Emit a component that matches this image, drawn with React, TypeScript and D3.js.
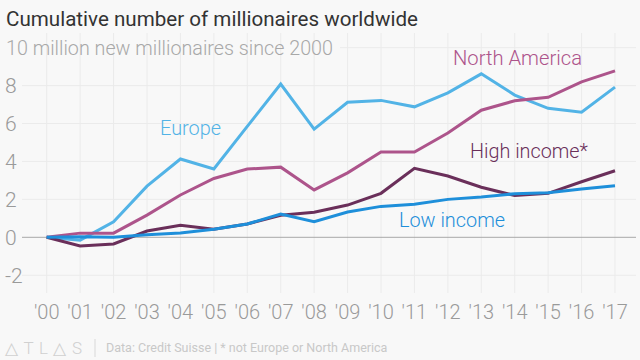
import React from 'react';
import * as d3 from 'd3';

const years = ["'00", "'01", "'02", "'03", "'04", "'05", "'06", "'07", "'08", "'09", "'10", "'11", "'12", "'13", "'14", "'15", "'16", "'17"];

const europe = [0, -0.15, 0.82, 2.7, 4.13, 3.6, 5.85, 8.08, 5.7, 7.12, 7.22, 6.88, 7.62, 8.62, 7.5, 6.8, 6.6, 7.92];
const northAmerica = [0, 0.22, 0.22, 1.17, 2.23, 3.1, 3.6, 3.7, 2.5, 3.4, 4.5, 4.5, 5.5, 6.7, 7.2, 7.38, 8.2, 8.78];
const highIncome = [0, -0.46, -0.35, 0.33, 0.63, 0.42, 0.7, 1.16, 1.32, 1.7, 2.32, 3.64, 3.23, 2.64, 2.2, 2.32, 2.93, 3.51];
const lowIncome = [0, 0.03, 0, 0.14, 0.23, 0.42, 0.7, 1.23, 0.82, 1.33, 1.63, 1.74, 2.0, 2.12, 2.3, 2.35, 2.55, 2.72];

const yTicks = [-2, 0, 2, 4, 6, 8];

const series = [
  { name: 'Europe', values: europe, color: '#52b3e6', labelX: 160, labelY: 127, labelW: 61 },
  { name: 'North America', values: northAmerica, color: '#ad548b', labelX: 453, labelY: 57, labelW: 129 },
  { name: 'High income*', values: highIncome, color: '#6a2f5a', labelX: 470, labelY: 150, labelW: 118 },
  { name: 'Low income', values: lowIncome, color: '#1e8fda', labelX: 399, labelY: 219, labelW: 106 },
];

const W = 640;
const H = 360;
const font = 'Roboto, sans-serif';

const App: React.FC = () => {
  const x = d3.scaleLinear().domain([0, years.length - 1]).range([46.7, 615]);
  const y = d3.scaleLinear().domain([0, 8]).range([237.3, 85.6]);

  const line = d3.line<number>()
    .x((_, i) => x(i))
    .y((d) => y(d));

  return (
    <svg width={W} height={H} style={{ position: 'absolute', left: 0, top: 0, background: '#f8f8f8' }}>
      <rect width={W} height={H} fill="#f8f8f8" />
      {/* vertical grid */}
      {years.map((_, i) => (
        <line key={'v' + i} x1={x(i)} x2={x(i)} y1={33} y2={293} stroke="#ebebeb" strokeWidth={1} />
      ))}
      {/* horizontal grid */}
      {yTicks.map((t) => (
        <line key={'h' + t} x1={22} x2={636} y1={y(t)} y2={y(t)}
          stroke={t === 0 ? '#a8a8a8' : '#ebebeb'} strokeWidth={1} />
      ))}
      <line x1={340} x2={636} y1={y(10)} y2={y(10)} stroke="#ebebeb" strokeWidth={1} />
      {yTicks.map((t) => (
        <text key={'yl' + t} x={5} y={y(t)} dy="0.36em" fontFamily={font} fontWeight={300}
          fontSize={21} fill="#9a9a9a">{t}</text>
      ))}
      {years.map((yr, i) => (
        <text key={'xl' + i} x={x(i)} y={319} textAnchor="middle" fontFamily={font} fontWeight={300}
          fontSize={20} fill="#9a9a9a">{yr}</text>
      ))}
      {/* lines */}
      {series.map((s) => (
        <path key={s.name} d={line(s.values) || ''} fill="none" stroke={s.color} strokeWidth={3}
          strokeLinejoin="miter" />
      ))}
      {series.map((s) => (
        <text key={'lab' + s.name} x={s.labelX} y={s.labelY} dy="0.36em" fontFamily={font} fontWeight={300}
          fontSize={21} fill={s.color} textLength={s.labelW} lengthAdjust="spacingAndGlyphs">{s.name}</text>
      ))}
      {/* title */}
      <text x={6} y={26} fontFamily={font} fontSize={21} fill="#333" textLength={412}
        lengthAdjust="spacingAndGlyphs">Cumulative number of millionaires worldwide</text>
      <text x={6} y={y(10)} dy="0.36em" fontFamily={font} fontWeight={300} fontSize={21} fill="#a8a8a8"
        textLength={327} lengthAdjust="spacingAndGlyphs">
        10 million new millionaires since 2000
      </text>
      {/* footer */}
      <text x={5} y={354} fontFamily={font} fontWeight={300} fontSize={17} fill="#d0d0d0"
        textLength={77} lengthAdjust="spacing">△TL△S</text>
      <line x1={95} x2={95} y1={339} y2={357} stroke="#d8d8d8" strokeWidth={1} />
      <text x={106} y={352} fontFamily={font} fontSize={12.5} fill="#c8c8c8">Data: Credit Suisse | * not Europe or North America</text>
    </svg>
  );
};

export default App;
